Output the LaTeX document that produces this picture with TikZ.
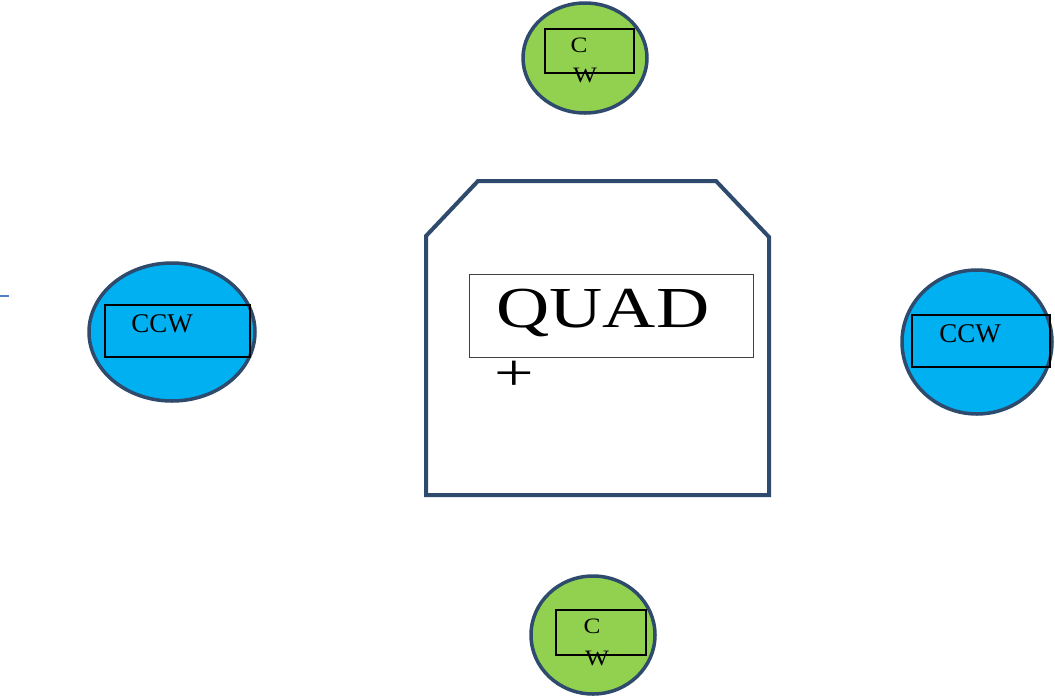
\documentclass[tikz,border=0pt]{standalone}
\usepackage{fontspec}
\setmainfont{Liberation Serif}
\tikzset{
  rotor/.style={draw=navy, line width=3.5pt},
  cwrotor/.style={rotor, fill=rotorgreen},
  ccwrotor/.style={rotor, fill=rotorblue},
  tag/.style={draw=black, line width=1.4pt},
  lbl/.style={inner sep=0pt, font=\fontsize{22}{22}\selectfont},
  frame/.style={draw=navy, line width=4pt, line join=miter},
}
\definecolor{navy}{HTML}{2E4A6C}
\definecolor{rotorgreen}{HTML}{92D050}
\definecolor{rotorblue}{HTML}{00B0F0}
\definecolor{tickblue}{HTML}{4F7FC4}
\begin{document}
\begin{tikzpicture}[x=1pt,y=-1pt]
\useasboundingbox (0,0) rectangle (1055,697);

% stray tick on the left edge
\draw[tickblue, line width=2pt] (0,296) -- (9,296);

% airframe body
\draw[frame] (426,236) -- (478,181) -- (716,181) -- (769,237) -- (769,495) -- (426,495) -- cycle;
\node[draw=black!75, line width=1pt, minimum width=284pt, minimum height=83pt, inner sep=0pt] (quadbox) at (611,315.5) {};
\node[inner sep=0pt, font=\fontsize{58}{58}\selectfont] (quad) at (603,313) {\scalebox{1.27}[1]{QUAD}};
\node[inner sep=0pt, font=\fontsize{52}{52}\selectfont] (plus) at (514,376) {\scalebox{1.35}[1]{+}};

% front rotor (clockwise)
\draw[cwrotor] (585,58) ellipse [x radius=62, y radius=55];
\node[tag, minimum width=89pt, minimum height=44pt, inner sep=0pt] (tagN) at (589.5,51) {};
\node[lbl] (cN) at (579,45) {\scalebox{1.15}[1]{C}};
\node[lbl] (wN) at (585,75) {\scalebox{1.15}[1]{W}};

% rear rotor (clockwise)
\draw[cwrotor] (593,635) ellipse [x radius=62, y radius=59];
\node[tag, minimum width=90pt, minimum height=45pt, inner sep=0pt] (tagS) at (601,632.5) {};
\node[lbl] (cS) at (592,626) {\scalebox{1.15}[1]{C}};
\node[lbl] (wS) at (597,658) {\scalebox{1.15}[1]{W}};

% left rotor (counter-clockwise)
\draw[ccwrotor] (172,332) ellipse [x radius=83, y radius=69];
\node[tag, minimum width=145pt, minimum height=52pt, inner sep=0pt] (tagW) at (177.5,331) {};
\node[lbl, font=\fontsize{27}{27}\selectfont] (ccwW) at (162,324) {CCW};

% right rotor (counter-clockwise)
\draw[ccwrotor] (977,342) ellipse [x radius=75, y radius=72];
\node[tag, minimum width=138pt, minimum height=52pt, inner sep=0pt] (tagE) at (981,341) {};
\node[lbl, font=\fontsize{27}{27}\selectfont] (ccwE) at (970,334) {CCW};
\end{tikzpicture}
\end{document}
